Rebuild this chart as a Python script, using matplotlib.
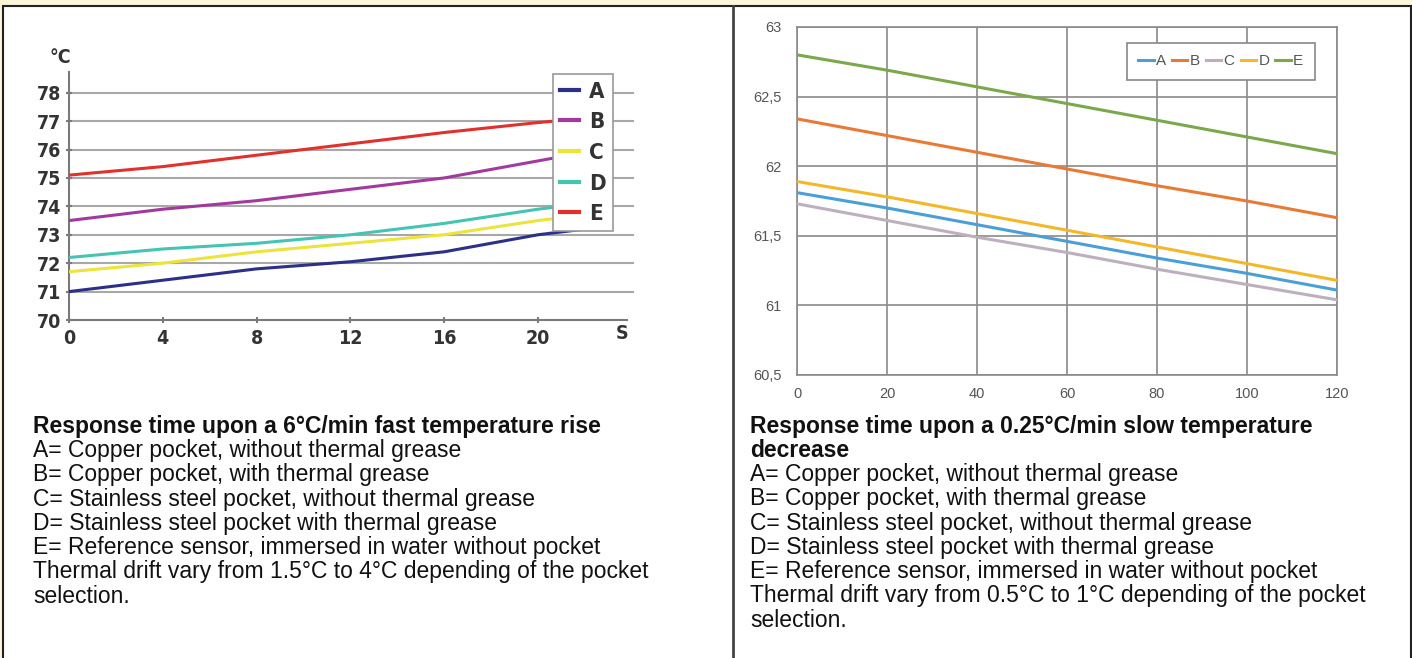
import matplotlib
matplotlib.use('Agg')
import matplotlib.pyplot as plt
from matplotlib.patches import Rectangle

W, H = 1412, 658

# left chart: fast temperature rise
rise_time = [0, 4, 8, 12, 16, 20, 22]
rise_A = [71.0, 71.4, 71.8, 72.05, 72.4, 73.0, 73.2]
rise_B = [73.5, 73.9, 74.2, 74.6, 75.0, 75.6, 75.9]
rise_C = [71.7, 72.0, 72.4, 72.7, 73.0, 73.5, 73.7]
rise_D = [72.2, 72.5, 72.7, 73.0, 73.4, 73.9, 74.1]
rise_E = [75.1, 75.4, 75.8, 76.2, 76.6, 76.95, 77.1]
rise_xticks = [0, 4, 8, 12, 16, 20]
rise_yticks = [70, 71, 72, 73, 74, 75, 76, 77, 78]

# right chart: slow temperature decrease
slow_time = [0, 20, 40, 60, 80, 100, 120]
slow_A = [61.81, 61.70, 61.58, 61.46, 61.34, 61.23, 61.11]
slow_B = [62.34, 62.22, 62.10, 61.98, 61.86, 61.75, 61.63]
slow_C = [61.73, 61.61, 61.49, 61.38, 61.26, 61.15, 61.04]
slow_D = [61.89, 61.78, 61.66, 61.54, 61.42, 61.30, 61.18]
slow_E = [62.80, 62.69, 62.57, 62.45, 62.33, 62.21, 62.09]
slow_xticks = [0, 20, 40, 60, 80, 100, 120]
slow_yticks = [60.5, 61, 61.5, 62, 62.5, 63]
slow_ylabels = ['60,5', '61', '61,5', '62', '62,5', '63']

labels = ['A', 'B', 'C', 'D', 'E']
rise_colors = ['#2d2f88', '#a23a9e', '#ece43c', '#45c4b4', '#e0312c']
slow_colors = ['#4a9fd6', '#e87a35', '#bcb0bc', '#f3b82a', '#7aa84a']

text_left = ("A= Copper pocket, without thermal grease\n"
             "B= Copper pocket, with thermal grease\n"
             "C= Stainless steel pocket, without thermal grease\n"
             "D= Stainless steel pocket with thermal grease\n"
             "E= Reference sensor, immersed in water without pocket\n"
             "Thermal drift vary from 1.5\u00b0C to 4\u00b0C depending of the pocket\n"
             "selection.")
text_right = ("A= Copper pocket, without thermal grease\n"
              "B= Copper pocket, with thermal grease\n"
              "C= Stainless steel pocket, without thermal grease\n"
              "D= Stainless steel pocket with thermal grease\n"
              "E= Reference sensor, immersed in water without pocket\n"
              "Thermal drift vary from 0.5\u00b0C to 1\u00b0C depending of the pocket\n"
              "selection.")

plt.rcParams['font.family'] = ['Liberation Sans', 'DejaVu Sans']
tick_font = {'family': 'DejaVu Sans', 'stretch': 'condensed', 'weight': 'bold', 'size': 14}
leg_font = {'family': 'DejaVu Sans', 'stretch': 'condensed', 'weight': 'bold', 'size': 16}


def box(x0, y0, x1, y1):
    # pixel box (top-left origin) -> figure fraction rect
    return [x0 / W, 1 - y1 / H, (x1 - x0) / W, (y1 - y0) / H]


fig = plt.figure(figsize=(W / 100, H / 100), dpi=100, facecolor='#fcf6dc')
fig.patches.append(Rectangle((3 / W, -0.01), (1411 - 3) / W, 1 - 6 / H + 0.01,
                             transform=fig.transFigure, facecolor='white',
                             edgecolor='#222222', linewidth=1.5, zorder=-2))
fig.add_artist(plt.Line2D([733 / W, 733 / W], [0, 1 - 6 / H], color='#444444', lw=2,
                          transform=fig.transFigure, zorder=-1))

# ---- left chart
ax1 = fig.add_axes(box(69, 72, 627, 320))
ax1.patch.set_alpha(0)
series = [rise_A, rise_B, rise_C, rise_D, rise_E]
for i in range(5):
    ax1.plot(rise_time, series[i], color=rise_colors[i], lw=2.2, label=labels[i], zorder=3)
ax1.set_xlim(0, 23.8)
ax1.set_ylim(70, 78.73)
ax1.set_xticks(rise_xticks)
ax1.set_yticks(rise_yticks)
for v in rise_yticks[1:]:
    ax1.plot([0, 24.05], [v, v], color='#a8a8a8', lw=1.5, zorder=1, clip_on=False)
for s in ['top', 'right']:
    ax1.spines[s].set_visible(False)
for s in ['left', 'bottom']:
    ax1.spines[s].set_color('#7a7a7a')
    ax1.spines[s].set_linewidth(1.5)
ax1.tick_params(axis='both', colors='#7a7a7a', length=5, width=1.5, direction='inout',
                labelcolor='#333333')
ax1.tick_params(axis='x', pad=4)
ax1.tick_params(axis='y', pad=3)
for lab in ax1.get_xticklabels() + ax1.get_yticklabels():
    lab.set_fontproperties(tick_font)
ax1.text(-0.015, 1.02, '\u00b0C', transform=ax1.transAxes, fontdict=tick_font,
         color='#333333', ha='center', va='bottom')
ax1.text(0.991, -0.055, 'S', transform=ax1.transAxes, fontdict=tick_font,
         color='#333333', ha='center', va='center')
leg1 = ax1.legend(loc='upper left', bbox_to_anchor=(0.867, 0.99), frameon=True,
                  fancybox=False, edgecolor='#999999', framealpha=1,
                  handlelength=0.85, handletextpad=0.45, labelspacing=0.48,
                  borderpad=0.32, borderaxespad=0, prop=leg_font, labelcolor='#333333')
leg1.get_frame().set_linewidth(1.2)
for line in leg1.get_lines():
    line.set_linewidth(3)

# ---- right chart
ax2 = fig.add_axes(box(797, 27, 1337, 375))
series = [slow_A, slow_B, slow_C, slow_D, slow_E]
for i in range(5):
    ax2.plot(slow_time, series[i], color=slow_colors[i], lw=2.2, label=labels[i], zorder=3)
ax2.set_xlim(0, 120)
ax2.set_ylim(60.5, 63)
ax2.set_xticks(slow_xticks)
ax2.set_yticks(slow_yticks)
ax2.set_yticklabels(slow_ylabels)
ax2.grid(True, color='#8a8a8a', lw=1.2, zorder=1)
ax2.set_axisbelow(True)
for s in ax2.spines.values():
    s.set_color('#8a8a8a')
    s.set_linewidth(1.2)
ax2.tick_params(axis='both', length=0, labelsize=10.5, labelcolor='#555555')
ax2.tick_params(axis='x', pad=9)
ax2.tick_params(axis='y', pad=11)
leg2 = ax2.legend(loc='upper left', bbox_to_anchor=(0.611, 0.954), ncol=5, frameon=True,
                  fancybox=False, edgecolor='#888888', framealpha=1,
                  handlelength=1.0, handletextpad=0.15, columnspacing=0.4,
                  borderpad=0.75, borderaxespad=0, fontsize=11, labelcolor='#555555')
leg2.get_frame().set_linewidth(1.2)

# ---- descriptions
fs = 16.5
ls = 1.07
fig.text(33 / W, 1 - 415 / H, 'Response time upon a 6\u00b0C/min fast temperature rise',
         fontsize=fs, fontweight='bold', color='#111111', va='top')
fig.text(33 / W, 1 - 439 / H, text_left, fontsize=fs, color='#111111',
         va='top', linespacing=ls)
fig.text(750 / W, 1 - 415 / H, 'Response time upon a 0.25\u00b0C/min slow temperature\ndecrease',
         fontsize=fs, fontweight='bold', color='#111111', va='top', linespacing=ls)
fig.text(750 / W, 1 - 463 / H, text_right, fontsize=fs, color='#111111',
         va='top', linespacing=ls)

fig.savefig('out.png', dpi=100, facecolor=fig.get_facecolor())
